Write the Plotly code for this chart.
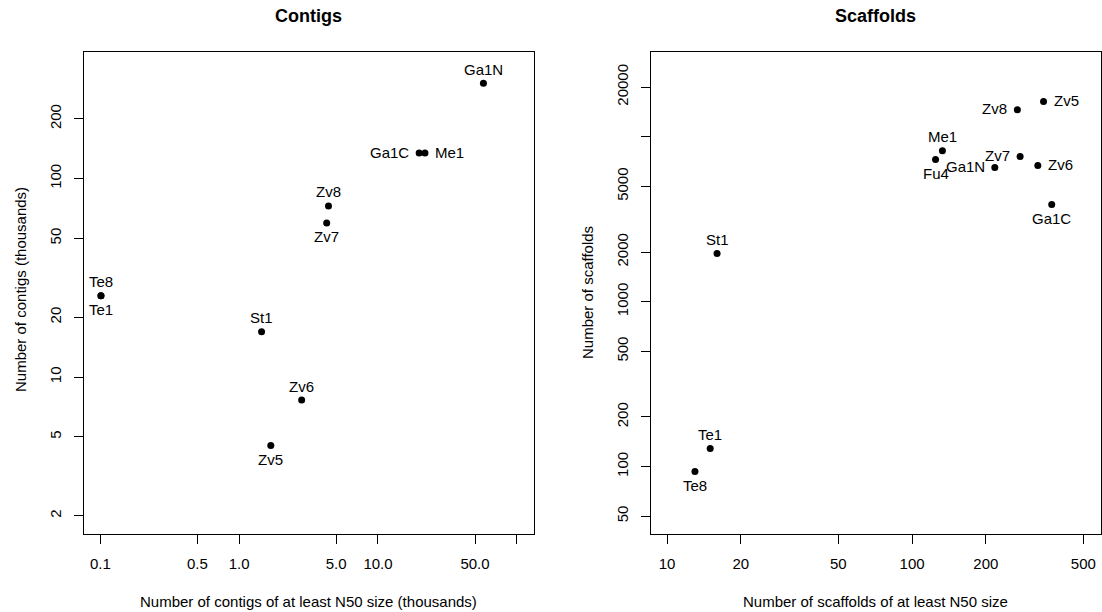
import numpy as np
import plotly.graph_objects as go

# ---------------- data ----------------
contig_names = ["Ga1N", "Ga1C", "Me1", "Zv8", "Zv7", "Te8", "Te1", "St1", "Zv6", "Zv5"]
contig_n50_count_k = [57.5, 19.8, 21.8, 4.40, 4.27, 0.101, 0.101, 1.45, 2.82, 1.69]
contig_total_k = [302, 134.5, 134.5, 72.8, 59.8, 25.7, 25.7, 16.9, 7.66, 4.53]
contig_label_side = ["top", "left", "right", "top", "bottom", "top", "bottom", "top", "top", "bottom"]

scaffold_names = ["Zv5", "Zv8", "Me1", "Fu4", "Ga1N", "Zv7", "Zv6", "Ga1C", "St1", "Te1", "Te8"]
scaffold_n50_count = [344, 269, 133, 124.7, 217.6, 276, 326, 371.5, 16.0, 15.0, 13.0]
scaffold_total = [16370, 14580, 8225, 7290, 6518, 7601, 6698, 3886, 1960, 128.6, 93.3]
scaffold_label_side = ["right", "left", "top", "bottom", "left", "left", "right", "bottom", "top", "top", "bottom"]

contig_xticks = [0.1, 0.5, 1, 5, 10, 50, 100]
contig_xtick_text = ["0.1", "0.5", "1.0", "5.0", "10.0", "50.0", ""]
contig_yticks = [2, 5, 10, 20, 50, 100, 200]
contig_ytick_text = ["2", "5", "10", "20", "50", "100", "200"]

scaffold_xticks = [10, 20, 50, 100, 200, 500]
scaffold_xtick_text = ["10", "20", "50", "100", "200", "500"]
scaffold_yticks = [50, 100, 200, 500, 1000, 2000, 5000, 10000, 20000]
scaffold_ytick_text = ["50", "100", "200", "500", "1000", "2000", "5000", "", "20000"]

# ---------------- layout constants ----------------
W, H = 1102, 612
FONT = "Liberation Sans, Arial, Helvetica, sans-serif"
FS = 15

def px_x(p):
    return p / W

def px_y(p):
    return 1 - p / H

box_top, box_bot = 52.3, 534.0
ydom = [px_y(box_bot), px_y(box_top)]
left_dom = [px_x(83.5), px_x(534.0)]
right_dom = [px_x(650.5), px_x(1100.5)]

fig = go.Figure()

fig.add_trace(go.Scatter(x=contig_n50_count_k, y=contig_total_k, mode="markers",
                         marker=dict(color="black", size=7), xaxis="x", yaxis="y",
                         hoverinfo="skip", showlegend=False))
fig.add_trace(go.Scatter(x=scaffold_n50_count, y=scaffold_total, mode="markers",
                         marker=dict(color="black", size=7), xaxis="x2", yaxis="y2",
                         hoverinfo="skip", showlegend=False))

shift = {"top": dict(xanchor="center", yanchor="middle", xshift=0, yshift=14),
         "bottom": dict(xanchor="center", yanchor="middle", xshift=0, yshift=-14),
         "left": dict(xanchor="right", yanchor="middle", xshift=-8, yshift=1),
         "right": dict(xanchor="left", yanchor="middle", xshift=8, yshift=1)}

annotations = []
for names, xs, ys, sides, xr, yr in [
        (contig_names, contig_n50_count_k, contig_total_k, contig_label_side, "x", "y"),
        (scaffold_names, scaffold_n50_count, scaffold_total, scaffold_label_side, "x2", "y2")]:
    for n, xv, yv, s in zip(names, xs, ys, sides):
        annotations.append(dict(x=np.log10(xv), y=np.log10(yv), xref=xr, yref=yr, text=n,
                                showarrow=False, font=dict(family=FONT, size=FS, color="black"),
                                **shift[s]))

# titles
annotations += [
    dict(x=px_x((83.5 + 534) / 2), y=px_y(16), xref="paper", yref="paper", text="<b>Contigs</b>",
         showarrow=False, xanchor="center", yanchor="middle",
         font=dict(family=FONT, size=18, color="black")),
    dict(x=px_x((650.5 + 1100.5) / 2), y=px_y(16), xref="paper", yref="paper", text="<b>Scaffolds</b>",
         showarrow=False, xanchor="center", yanchor="middle",
         font=dict(family=FONT, size=18, color="black")),
    dict(x=px_x((83.5 + 534) / 2), y=px_y(601), xref="paper", yref="paper",
         text="Number of contigs of at least N50 size (thousands)", showarrow=False,
         xanchor="center", yanchor="middle", font=dict(family=FONT, size=FS, color="black")),
    dict(x=px_x((650.5 + 1100.5) / 2), y=px_y(601), xref="paper", yref="paper",
         text="Number of scaffolds of at least N50 size", showarrow=False,
         xanchor="center", yanchor="middle", font=dict(family=FONT, size=FS, color="black")),
    dict(x=px_x(20), y=px_y(290), xref="paper", yref="paper", text="Number of contigs (thousands)",
         showarrow=False, textangle=-90, xanchor="center", yanchor="middle",
         font=dict(family=FONT, size=FS, color="black")),
    dict(x=px_x(587), y=px_y(293), xref="paper", yref="paper", text="Number of scaffolds",
         showarrow=False, textangle=-90, xanchor="center", yanchor="middle",
         font=dict(family=FONT, size=FS, color="black")),
]

axis_common = dict(type="log", showgrid=False, zeroline=False, showline=True, mirror=True,
                   linecolor="black", linewidth=1, ticks="outside", ticklen=9, tickwidth=1,
                   tickcolor="black", tickfont=dict(family=FONT, size=FS, color="black"))

fig.update_layout(
    width=W, height=H, margin=dict(l=0, r=0, t=0, b=0),
    paper_bgcolor="white", plot_bgcolor="white", showlegend=False,
    xaxis=dict(domain=left_dom, anchor="y", range=[-1.1215, 2.124], tickmode="array",
               tickvals=contig_xticks, ticktext=contig_xtick_text, ticklabelstandoff=7, **axis_common),
    yaxis=dict(domain=ydom, anchor="x", range=[0.2097, 2.636], tickmode="array",
               tickvals=contig_yticks, ticktext=contig_ytick_text, tickangle=-90,
               ticklabelstandoff=7, **axis_common),
    xaxis2=dict(domain=right_dom, anchor="y2", range=[0.9325, 2.769], tickmode="array",
                tickvals=scaffold_xticks, ticktext=scaffold_xtick_text, ticklabelstandoff=7, **axis_common),
    yaxis2=dict(domain=ydom, anchor="x2", range=[1.5915, 4.512], tickmode="array",
                tickvals=scaffold_yticks, ticktext=scaffold_ytick_text, tickangle=-90,
                ticklabelstandoff=7, **axis_common),
    annotations=annotations,
)

fig.write_html("out.html", config={"displayModeBar": False, "staticPlot": True},
               post_script="document.body.style.margin='0';document.body.style.overflow='hidden';")
